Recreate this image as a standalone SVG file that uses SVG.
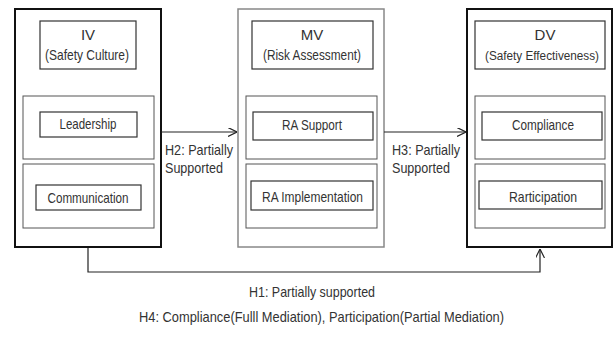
<svg xmlns="http://www.w3.org/2000/svg" width="613" height="342" viewBox="0 0 613 342">
<style>
text{font-family:"Liberation Sans",Arial,sans-serif;font-size:15px;fill:#333}
.outer{fill:#fff;stroke:#111;stroke-width:2}
.outerg{fill:#fff;stroke:#888;stroke-width:1.5}
.panel{fill:none;stroke:#555;stroke-width:1}
.box{fill:none;stroke:#333;stroke-width:1.2}
.c{text-anchor:middle}
.conn{fill:none;stroke:#222;stroke-width:1.2}
</style>
<defs>
<marker id="arr" viewBox="0 0 10 10" refX="10" refY="5" markerWidth="9" markerHeight="9" markerUnits="userSpaceOnUse" orient="auto">
<path d="M0,0 L10,5 L0,10" fill="none" stroke="#222" stroke-width="1.3"/>
</marker>
</defs>
<rect width="613" height="342" fill="#fff"/>
<g id="IV">
<rect class="outer" x="15" y="9" width="146" height="238"/>
<rect class="box" x="40" y="21" width="96" height="48"/>
<text class="c" x="88" y="40">IV</text>
<text class="c" x="87" y="60" textLength="84" lengthAdjust="spacingAndGlyphs">(Safety Culture)</text>
<rect class="panel" x="23" y="96" width="131" height="63"/>
<rect class="box" x="40" y="112" width="97" height="25"/>
<text class="c" x="88" y="129" textLength="57" lengthAdjust="spacingAndGlyphs">Leadership</text>
<rect class="panel" x="23" y="164" width="131" height="64"/>
<rect class="box" x="36" y="185" width="105" height="25"/>
<text class="c" x="88" y="203" textLength="81" lengthAdjust="spacingAndGlyphs">Communication</text>
</g>
<g id="MV">
<rect class="outerg" x="238" y="9" width="146" height="238"/>
<rect class="box" x="252" y="21" width="121" height="48"/>
<text class="c" x="312" y="40">MV</text>
<text class="c" x="312" y="60" textLength="98" lengthAdjust="spacingAndGlyphs">(Risk Assessment)</text>
<rect class="panel" x="246" y="96" width="131" height="63"/>
<rect class="box" x="253" y="112" width="120" height="28"/>
<text class="c" x="312" y="130" textLength="60" lengthAdjust="spacingAndGlyphs">RA Support</text>
<rect class="panel" x="246" y="164" width="131" height="64"/>
<rect class="box" x="251" y="181" width="122" height="29"/>
<text class="c" x="312.5" y="202" textLength="101" lengthAdjust="spacingAndGlyphs">RA Implementation</text>
</g>
<g id="DV">
<rect class="outer" x="467" y="9" width="145" height="238"/>
<rect class="box" x="475" y="21" width="130" height="48"/>
<text class="c" x="545" y="40">DV</text>
<text class="c" x="542" y="60" style="font-size:12.5px" textLength="114" lengthAdjust="spacingAndGlyphs">(Safety Effectiveness)</text>
<rect class="panel" x="475" y="96" width="130" height="63"/>
<rect class="box" x="482" y="112" width="120" height="28"/>
<text class="c" x="543" y="130" textLength="62" lengthAdjust="spacingAndGlyphs">Compliance</text>
<rect class="panel" x="475" y="164" width="130" height="64"/>
<rect class="box" x="479" y="181" width="123" height="28"/>
<text class="c" x="543" y="202" textLength="68" lengthAdjust="spacingAndGlyphs">Rarticipation</text>
</g>
<g id="connectors">
<line class="conn" x1="161" y1="132" x2="237" y2="132" marker-end="url(#arr)"/>
<line class="conn" x1="384" y1="132" x2="466" y2="132" marker-end="url(#arr)"/>
<polyline class="conn" points="88,248 88,272 540,272 540,249" marker-end="url(#arr)"/>
<text x="165" y="155" textLength="68" lengthAdjust="spacingAndGlyphs">H2: Partially</text>
<text x="165" y="173" textLength="58" lengthAdjust="spacingAndGlyphs">Supported</text>
<text x="392" y="155" textLength="68" lengthAdjust="spacingAndGlyphs">H3: Partially</text>
<text x="392" y="173" textLength="58" lengthAdjust="spacingAndGlyphs">Supported</text>
<text class="c" x="312" y="297" textLength="126" lengthAdjust="spacingAndGlyphs">H1: Partially supported</text>
<text class="c" x="321.5" y="322" textLength="365" lengthAdjust="spacingAndGlyphs">H4: Compliance(Fulll Mediation), Participation(Partial Mediation)</text>
</g>
</svg>
